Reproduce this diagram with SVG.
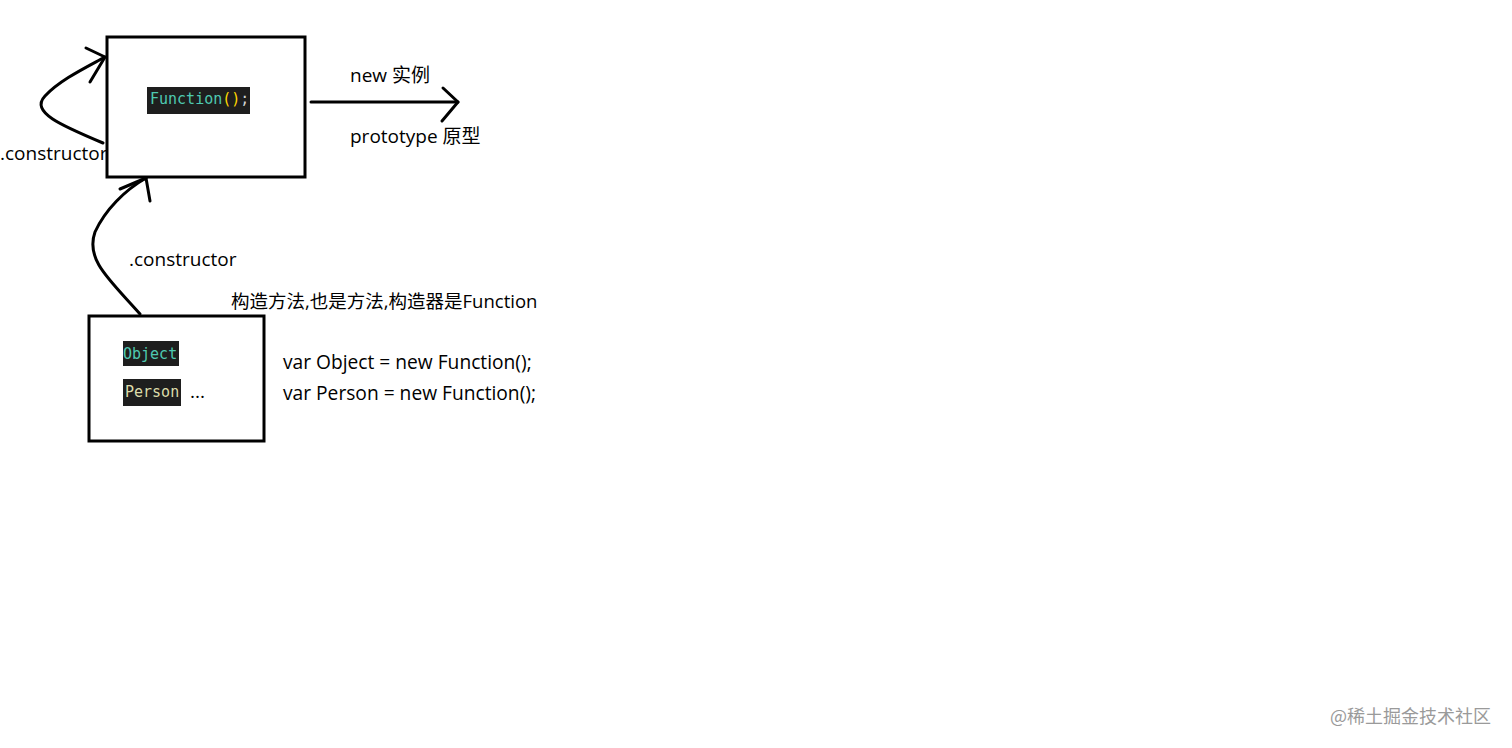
<svg xmlns="http://www.w3.org/2000/svg" width="1512" height="748" viewBox="0 0 1512 748">
<style>
.box{fill:#fff;stroke:#000;stroke-width:3}
.ln{fill:none;stroke:#000;stroke-width:3;stroke-linecap:round;stroke-linejoin:round}
.t{font-family:"Open Sans","Noto Sans CJK SC",sans-serif;font-size:19px;fill:#000}
.v{font-size:19.2px}
.c{font-size:18.5px}
.code{font-family:"DejaVu Sans Mono","Liberation Mono",monospace;font-size:15px}
.hl{fill:#1e1e1e}
.wm{font-family:"Noto Sans CJK SC",sans-serif;font-size:18px;fill:#9a9a9a}
</style>
<rect width="1512" height="748" fill="#fff"/>
<g id="connectors">
  <path class="ln" d="M103,143 C60,125 30,112 45,96 C60,80 85,68 105,57"/>
  <path class="ln" d="M86,48 L105,57 L90,82"/>
  <path class="ln" d="M140,314 C110,280 85,260 95,232 C105,210 125,190 146,178"/>
  <path class="ln" d="M120,189 L146,178 L150,201"/>
  <path class="ln" d="M311,102 L458,102"/>
  <path class="ln" d="M443,88 L458,102 L442,121"/>
</g>
<g id="node-function">
  <rect class="box" x="107" y="37" width="198" height="140"/>
  <rect class="hl" x="147" y="87" width="103" height="27"/>
  <text class="code" x="150" y="104"><tspan fill="#4ec9b0">Function</tspan><tspan fill="#ffd700">()</tspan><tspan fill="#d4d4d4">;</tspan></text>
</g>
<g id="node-objects">
  <rect class="box" x="89" y="316" width="175" height="125"/>
  <rect class="hl" x="123" y="341" width="56" height="25"/>
  <text class="code" x="123" y="359" fill="#4ec9b0">Object</text>
  <rect class="hl" x="123" y="379" width="58" height="27"/>
  <text class="code" x="125" y="397" fill="#dcdcaa">Person</text>
  <text class="t" x="190" y="398">...</text>
</g>
<g id="labels">
  <text class="t" x="0" y="160">.constructor</text>
  <text class="t" x="129" y="266">.constructor</text>
  <text class="t" x="350" y="82">new 实例</text>
  <text class="t" x="350" y="143">prototype 原型</text>
  <text class="t c" x="231" y="308">构造方法,也是方法,构造器是Function</text>
  <text class="t v" x="283" y="369">var Object = new Function();</text>
  <text class="t v" x="283" y="400">var Person = new Function();</text>
</g>
<text class="wm" x="1330" y="723">@稀土掘金技术社区</text>
</svg>
